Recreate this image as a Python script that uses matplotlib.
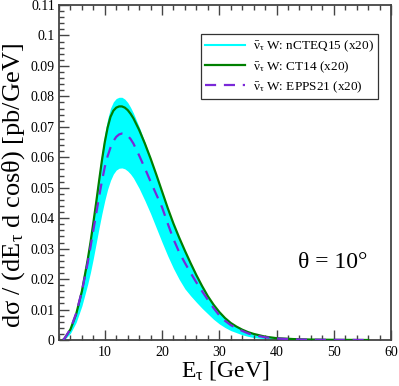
import matplotlib
matplotlib.use("Agg")
import matplotlib.pyplot as plt
from matplotlib.ticker import MultipleLocator, FixedLocator
import numpy as np

plt.rcParams['font.family'] = ['Liberation Serif', 'DejaVu Serif']
plt.rcParams['mathtext.fontset'] = 'custom'
plt.rcParams['mathtext.rm'] = 'Liberation Serif'
plt.rcParams['mathtext.it'] = 'Liberation Serif'
plt.rcParams['mathtext.bf'] = 'Liberation Serif:bold'

# Energy grid [GeV]
E = [2.7, 3, 4, 5, 6, 7,
     7.5, 8, 8.5, 9, 9.5, 10, 10.5, 11, 11.5, 12, 12.5, 13, 13.5, 14, 14.5, 15,
     16, 17, 18, 19, 20, 21, 22, 23, 24, 25, 26, 27, 28, 29, 30, 31, 32, 33, 34, 35, 36,
     38, 40, 43, 46, 50, 56]

ct14 = [0, 0.0006, 0.0035, 0.0085, 0.016, 0.0262,
        0.032, 0.0385, 0.0452, 0.0522, 0.059, 0.065, 0.0698, 0.0733, 0.0753, 0.0763, 0.0767,
        0.0767, 0.0763, 0.0755, 0.0743, 0.0728,
        0.069, 0.0645, 0.0596, 0.0543, 0.0488, 0.0433, 0.0382, 0.0336, 0.0293, 0.0252, 0.0213,
        0.0177, 0.0144, 0.0116, 0.0092, 0.0072, 0.0056, 0.0044, 0.0034, 0.0026, 0.002,
        0.0011, 0.0006, 0.0003, 0.00015, 0.00006, 0]

epps21 = [0, 0.0006, 0.0036, 0.0088, 0.016, 0.0252,
          0.0305, 0.036, 0.0415, 0.047, 0.0522, 0.0568, 0.0604, 0.0632, 0.0653, 0.0667, 0.0675,
          0.0678, 0.0677, 0.0671, 0.066, 0.0645,
          0.0606, 0.0564, 0.052, 0.0478, 0.0436, 0.0382, 0.0331, 0.0288, 0.0253, 0.022, 0.0189,
          0.016, 0.0132, 0.0105, 0.0081, 0.0063, 0.0049, 0.0039, 0.003, 0.0022, 0.0016,
          0.0009, 0.0005, 0.0002, 0.0001, 0.00004, 0]

ncteq_hi = [0, 0.0008, 0.0042, 0.0098, 0.0178, 0.0283,
            0.0343, 0.0408, 0.0477, 0.0548, 0.0617, 0.0677, 0.0726, 0.0761, 0.0782, 0.0793,
            0.0797, 0.0797, 0.0791, 0.078, 0.0764, 0.0745,
            0.07, 0.065, 0.0598, 0.0537, 0.0482, 0.0427, 0.0376, 0.0331, 0.0289, 0.0248, 0.021,
            0.0174, 0.0142, 0.0114, 0.0091, 0.0071, 0.0055, 0.0043, 0.0033, 0.0025, 0.0019,
            0.0011, 0.0006, 0.0003, 0.00015, 0.00006, 0]

ncteq_lo = [0, 0.0002, 0.0022, 0.0058, 0.0112, 0.0182,
            0.0222, 0.0268, 0.0318, 0.0368, 0.0415, 0.0458, 0.0495, 0.0524, 0.0545, 0.0558,
            0.0564, 0.0565, 0.0562, 0.0555, 0.0545, 0.0532,
            0.0498, 0.0458, 0.0415, 0.0368, 0.0321, 0.0276, 0.0235, 0.0199, 0.0168, 0.0145,
            0.0124, 0.0104, 0.0086, 0.0068, 0.0053, 0.0041, 0.0031, 0.0024, 0.0017, 0.0012,
            0.0008, 0.0004, 0.0002, 0.0001, 0.00005, 0.00002, 0]

labels = [r"$\mathrm{\bar{\nu}_{\tau}}$ W: nCTEQ15 (x20)",
          r"$\mathrm{\bar{\nu}_{\tau}}$ W: CT14 (x20)",
          r"$\mathrm{\bar{\nu}_{\tau}}$ W: EPPS21 (x20)"]

fig = plt.figure(figsize=(3.99, 3.86), dpi=100)
ax = fig.add_axes([59/399, 1-340/386, (391-59)/399, (340-5)/386])

ax.fill_between(E, ncteq_lo, ncteq_hi, color='#00ffff', lw=0, zorder=1)
h1, = ax.plot([], [], color='#00ffff', lw=1.5)
h2, = ax.plot(E, ct14, color='#008000', lw=1.6, zorder=3)
h3, = ax.plot(E, epps21, color='#7a28d8', lw=1.6, dashes=(5, 3.5), zorder=4)

ax.set_xlim(2, 60)
ax.set_ylim(0, 0.11)
ax.xaxis.set_major_locator(FixedLocator([10, 20, 30, 40, 50, 60]))
ax.xaxis.set_minor_locator(MultipleLocator(2))
ax.yaxis.set_minor_locator(MultipleLocator(0.002))
ax.set_yticks(np.arange(0, 0.1101, 0.01))
ax.set_yticklabels(['0', '0.01', '0.02', '0.03', '0.04', '0.05', '0.06', '0.07', '0.08',
                    '0.09', '0.1', '0.11'])

fc = '#444444'
for s in ax.spines.values():
    s.set_color(fc)
    s.set_linewidth(1.3)
ax.tick_params(which='both', direction='in', top=True, right=False, colors=fc,
               labelcolor='black', labelsize=10, width=1.0)
ax.tick_params(which='major', length=7)
ax.tick_params(which='minor', length=3.6)
ax.tick_params(axis='x', pad=4)
ax.tick_params(axis='y', pad=3)

ax.set_xlabel(r"E$_\mathrm{\tau}$ [GeV]", fontsize=17, labelpad=0)
ax.set_ylabel(r"d$\mathrm{\sigma}$ / (dE$_\mathrm{\tau}$ d cos$\mathrm{\theta}$) [pb/GeV]",
              fontsize=19)
ax.yaxis.set_label_coords(-0.097, 0.46)

ax.text(49.9, 0.0255, r"θ = 10°", fontsize=17, ha='center', va='center')

leg = ax.legend([h1, h2, h3], labels, loc='upper right', bbox_to_anchor=(0.97, 0.92),
                fontsize=9.5, frameon=True, fancybox=False, handlelength=3.0,
                borderpad=0.35, labelspacing=0.35, handletextpad=0.6, borderaxespad=0.2)
leg.get_frame().set_edgecolor('black')
leg.get_frame().set_linewidth(0.9)

fig.savefig("out.png", dpi=100)
